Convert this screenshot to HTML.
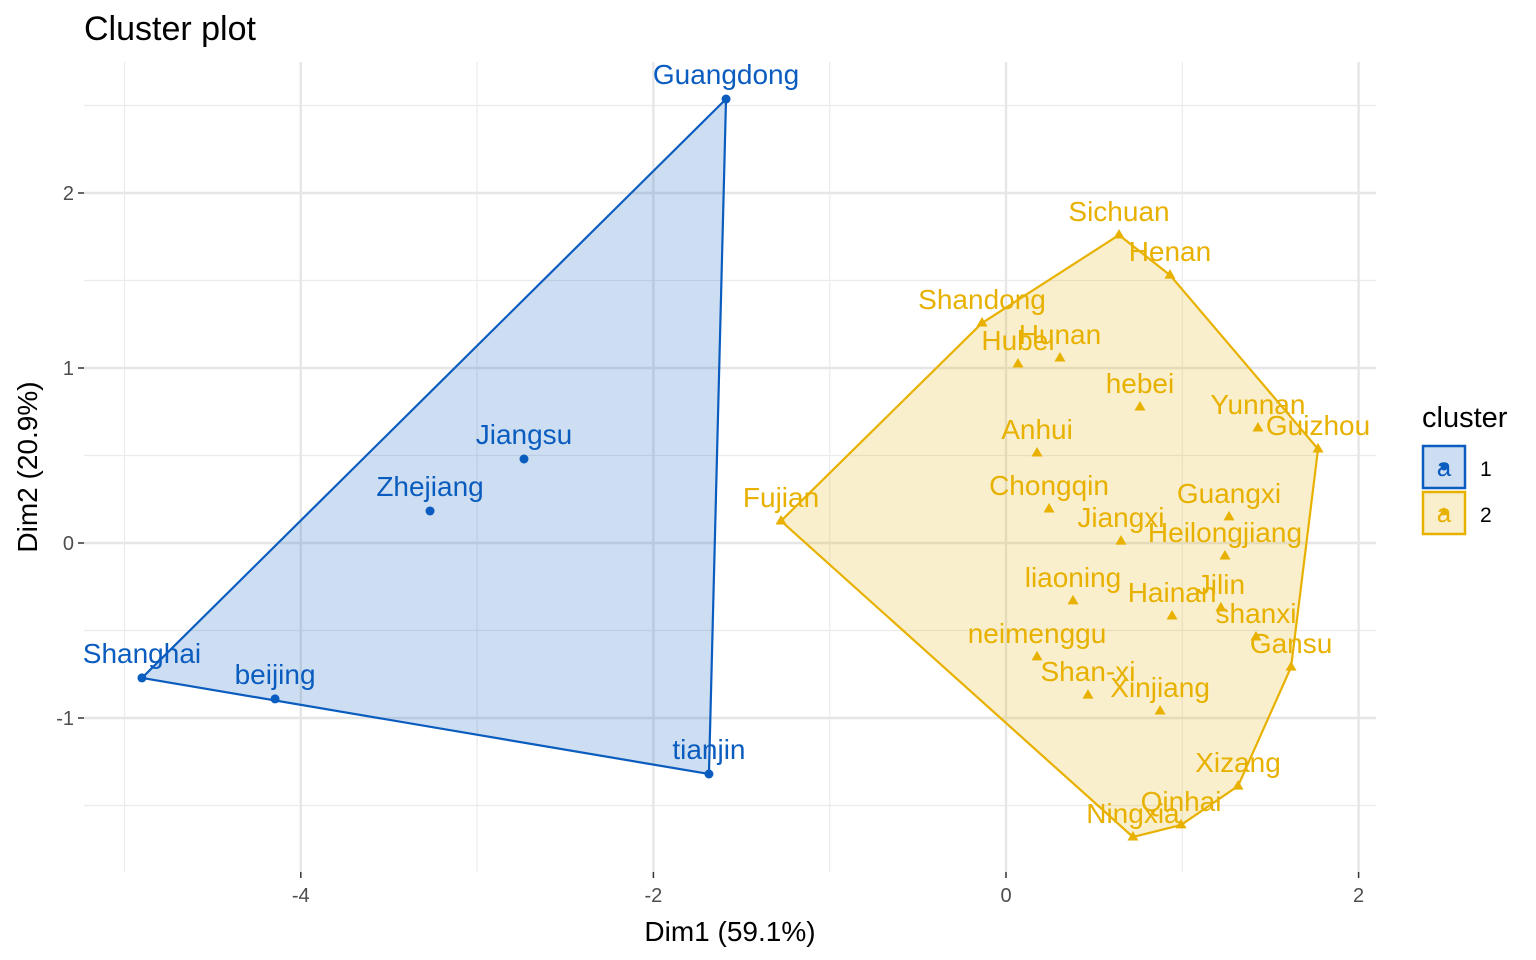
<!DOCTYPE html>
<html><head><meta charset="utf-8"><style>
body{margin:0;background:#fff;}
svg{display:block;font-family:"Liberation Sans",Arial,sans-serif;}
</style></head><body>
<svg id="chart" width="1536" height="960" viewBox="0 0 1536 960" xmlns="http://www.w3.org/2000/svg">
<rect width="1536" height="960" fill="#fff"/>
<text x="84" y="40" font-size="34" fill="#000">Cluster plot</text>
<g id="grid"></g><g id="hulls"></g><g id="pts"></g><g id="axes"></g>
<text x="730" y="941" font-size="28" text-anchor="middle" fill="#000">Dim1 (59.1%)</text>
<text transform="translate(37,467) rotate(-90)" font-size="28" text-anchor="middle" fill="#000">Dim2 (20.9%)</text>
<g>
<text x="1422" y="427" font-size="29" fill="#000">cluster</text>
<g>
<rect x="1423" y="446" width="42" height="42" fill="#0a5cbf" fill-opacity="0.2" stroke="#0a5cbf" stroke-width="2.5"/>
<text x="1444" y="476" font-size="26" text-anchor="middle" fill="#0a5cbf">a</text>
<circle cx="1444" cy="467" r="3.5" fill="#0a5cbf"/>
<text x="1480" y="476" font-size="21" fill="#000">1</text></g>
<g>
<rect x="1423" y="492" width="42" height="42" fill="#e8b100" fill-opacity="0.2" stroke="#e8b100" stroke-width="2.5"/>
<text x="1444" y="522" font-size="26" text-anchor="middle" fill="#e8b100">a</text>
<path d="M1444,507 l4,7 h-8z" fill="#e8b100"/>
<text x="1480" y="522" font-size="21" fill="#000">2</text></g>
</g>
</svg>
<script>
const names1=["Guangdong","Jiangsu","Zhejiang","Shanghai","beijing","tianjin"];
const dim1_c1=[-1.588,-2.734,-3.267,-4.901,-4.146,-1.685];
const dim2_c1=[2.537,0.48,0.183,-0.771,-0.891,-1.32];
const names2=["Sichuan","Henan","Shandong","Hubei","Hunan","hebei","Yunnan","Guizhou","Anhui","Fujian","Chongqin","Guangxi","Jiangxi","Heilongjiang","liaoning","Jilin","Hainan","shanxi","Gansu","neimenggu","Shan-xi","Xinjiang","Xizang","Qinhai","Ningxia"];
const dim1_c2=[0.641,0.930,-0.136,0.068,0.306,0.760,1.429,1.770,0.176,-1.276,0.244,1.265,0.652,1.242,0.380,1.219,0.942,1.418,1.617,0.176,0.465,0.874,1.316,0.993,0.720];
const dim2_c2=[1.76,1.531,1.257,1.023,1.057,0.777,0.657,0.537,0.514,0.126,0.194,0.149,0.011,-0.074,-0.331,-0.371,-0.417,-0.537,-0.709,-0.651,-0.869,-0.96,-1.389,-1.611,-1.68];
const xTicks=[-4,-2,0,2], yTicks=[-1,0,1,2];
const xMinor=[-5,-3,-1,1], yMinor=[-1.5,-0.5,0.5,1.5,2.5];
const NS="http://www.w3.org/2000/svg";
const X=v=>1006+v*176.3, Y=v=>543-v*175;
const PL=84,PR=1376,PT=62,PB=872;
function mk(p,tag,at){const e=document.createElementNS(NS,tag);for(const k in at)e.setAttribute(k,at[k]);p.appendChild(e);return e;}
const grid=document.getElementById('grid'),axes=document.getElementById('axes');
xMinor.forEach(v=>{const l=mk(grid,'line',{x1:X(v),x2:X(v),y1:PT,y2:PB,stroke:'#ebebeb','stroke-width':1.2});});
yMinor.forEach(v=>{const l=mk(grid,'line',{x1:PL,x2:PR,y1:Y(v),y2:Y(v),stroke:'#ebebeb','stroke-width':1.2});});
xTicks.forEach(v=>{const l=mk(grid,'line',{x1:X(v),x2:X(v),y1:PT,y2:PB,stroke:'#e6e6e6','stroke-width':2.4});
 mk(axes,'line',{x1:X(v),x2:X(v),y1:PB,y2:PB+6,stroke:'#333','stroke-width':1.5});
 const t=mk(axes,'text',{x:X(v),y:PB+30,'font-size':20,'text-anchor':'middle',fill:'#4d4d4d'});t.textContent=v;});
yTicks.forEach(v=>{const l=mk(grid,'line',{x1:PL,x2:PR,y1:Y(v),y2:Y(v),stroke:'#e6e6e6','stroke-width':2.4});
 mk(axes,'line',{x1:PL-6,x2:PL,y1:Y(v),y2:Y(v),stroke:'#333','stroke-width':1.5});
 const t=mk(axes,'text',{x:PL-10,y:Y(v)+7,'font-size':20,'text-anchor':'end',fill:'#4d4d4d'});t.textContent=v;});
function hull(xs,ys){const p=xs.map((x,i)=>[X(x),Y(ys[i])]).sort((a,b)=>a[0]-b[0]||a[1]-b[1]);
 const cr=(o,a,b)=>(a[0]-o[0])*(b[1]-o[1])-(a[1]-o[1])*(b[0]-o[0]);const lo=[],up=[];
 for(const q of p){while(lo.length>=2&&cr(lo[lo.length-2],lo[lo.length-1],q)<=0)lo.pop();lo.push(q);}
 for(const q of p.slice().reverse()){while(up.length>=2&&cr(up[up.length-2],up[up.length-1],q)<=0)up.pop();up.push(q);}
 return lo.slice(0,-1).concat(up.slice(0,-1));}
const hg=document.getElementById('hulls'),pg=document.getElementById('pts');
[[dim1_c1,dim2_c1,'#0a5cbf','hull-cluster-1'],[dim1_c2,dim2_c2,'#e8b100','hull-cluster-2']].forEach(([xs,ys,c,n])=>{
 const h=hull(xs,ys);const p=mk(hg,'polygon',{points:h.map(q=>q.join(',')).join(' '),fill:c,'fill-opacity':0.2,stroke:c,'stroke-width':2.2});
 });
names1.forEach((n,i)=>{const x=X(dim1_c1[i]),y=Y(dim2_c1[i]);
 const c=mk(pg,'circle',{cx:x,cy:y,r:4.5,fill:'#0a5cbf'});
 const t=mk(pg,'text',{x:x,y:y-15,'font-size':28,'text-anchor':'middle',fill:'#0a5cbf'});t.textContent=n;});
names2.forEach((n,i)=>{const x=X(dim1_c2[i]),y=Y(dim2_c2[i]);
 const c=mk(pg,'path',{d:`M${x},${y-6} l5.5,9.5 h-11z`,fill:'#e8b100'});
 const t=mk(pg,'text',{x:x,y:y-14,'font-size':28,'text-anchor':'middle',fill:'#e8b100'});t.textContent=n;});
</script>
</body></html>
